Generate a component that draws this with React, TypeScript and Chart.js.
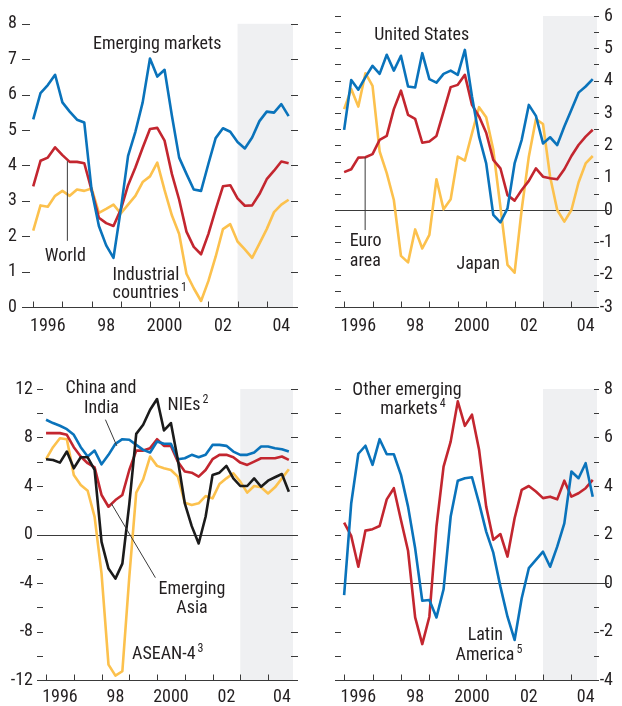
import React, { useEffect, useRef } from 'react';
import { Chart, registerables } from 'chart.js';

Chart.register(...registerables);

const FONT = '"Liberation Sans Narrow", "Roboto Condensed", "DejaVu Sans Condensed", sans-serif';
const TEXT = '#231f20';
const AXIS = '#3a3a3a';
const SHADE = '#eff0f2';
const BLUE = '#0a73bb';
const RED = '#c3262f';
const YELLOW = '#fcc14d';
const BLACK = '#1b1b1b';

// ---- categories (quarters) ----
const quarters = [
  '1996Q1', '1996Q2', '1996Q3', '1996Q4', '1997Q1', '1997Q2', '1997Q3', '1997Q4',
  '1998Q1', '1998Q2', '1998Q3', '1998Q4', '1999Q1', '1999Q2', '1999Q3', '1999Q4',
  '2000Q1', '2000Q2', '2000Q3', '2000Q4', '2001Q1', '2001Q2', '2001Q3', '2001Q4',
  '2002Q1', '2002Q2', '2002Q3', '2002Q4', '2003Q1', '2003Q2', '2003Q3', '2003Q4',
  '2004Q1', '2004Q2', '2004Q3', '2004Q4',
];

// ---- axis ticks ----
const xTickYears = [1996, 1997, 1998, 1999, 2000, 2001, 2002, 2003, 2004];
const xLabelYears = [1996.5, 1998.5, 2000.5, 2002.5, 2004.5];
const xLabelTexts = ['1996', '98', '2000', '02', '04'];
const forecastStart = 2003;
const X_MIN = 1995.89;
const X_MAX = 2004.9;

// ---- panel 1: world ----
const emergingMarkets = [5.30, 6.04, 6.27, 6.56, 5.78, 5.52, 5.29, 5.21, 3.30, 2.29, 1.74, 1.39, 2.75, 4.27, 4.95, 5.78, 7.02, 6.51, 6.70, 5.41, 4.22, 3.76, 3.32, 3.28, 4.04, 4.77, 5.05, 4.95, 4.66, 4.48, 4.79, 5.25, 5.52, 5.49, 5.73, 5.39];
const world = [3.41, 4.13, 4.22, 4.51, 4.29, 4.10, 4.10, 4.06, 3.30, 2.52, 2.37, 2.29, 2.75, 3.44, 3.94, 4.50, 5.03, 5.06, 4.70, 3.76, 3.03, 2.13, 1.70, 1.49, 2.06, 2.75, 3.41, 3.44, 3.07, 2.86, 2.87, 3.19, 3.61, 3.85, 4.11, 4.06];
const industrialCountries = [2.16, 2.87, 2.83, 3.14, 3.28, 3.14, 3.32, 3.28, 3.35, 2.66, 2.77, 2.89, 2.64, 2.89, 3.14, 3.53, 3.69, 4.08, 3.30, 2.59, 2.06, 0.94, 0.53, 0.17, 0.73, 1.42, 2.20, 2.34, 1.85, 1.63, 1.39, 1.79, 2.20, 2.68, 2.89, 3.03];

// ---- panel 2: industrial economies ----
const unitedStates = [2.48, 4.02, 3.72, 4.11, 4.46, 4.21, 4.80, 4.31, 4.77, 3.82, 3.79, 4.85, 4.05, 3.94, 4.21, 4.31, 4.18, 4.95, 3.51, 2.27, 1.44, -0.15, -0.38, 0.05, 1.44, 2.17, 3.25, 2.91, 2.06, 2.25, 2.01, 2.58, 3.10, 3.63, 3.82, 4.05];
const euroArea = [1.17, 1.26, 1.62, 1.63, 1.73, 2.17, 2.29, 3.12, 3.69, 2.94, 2.82, 2.08, 2.12, 2.29, 3.04, 3.80, 3.87, 4.18, 3.25, 2.89, 2.39, 1.55, 1.29, 0.46, 0.29, 0.62, 0.90, 1.29, 1.03, 0.98, 0.95, 1.26, 1.67, 2.01, 2.27, 2.48];
const japan = [3.12, 3.74, 3.20, 4.23, 3.84, 1.81, 1.14, 0.31, -1.42, -1.62, -0.60, -1.19, -0.77, 0.95, 0.02, 0.33, 1.65, 1.53, 2.37, 3.18, 2.87, 1.86, 0.10, -1.70, -1.94, 0.02, 1.65, 2.81, 2.66, 1.03, 0.00, -0.36, 0.00, 0.85, 1.44, 1.67];

// ---- panel 3: emerging Asia ----
const chinaIndia = [9.46, 9.19, 8.97, 8.69, 8.22, 7.20, 6.43, 6.92, 5.79, 6.57, 7.48, 7.86, 7.81, 7.39, 6.98, 6.76, 7.67, 7.48, 7.48, 6.21, 6.29, 6.57, 6.37, 6.57, 7.39, 7.39, 7.31, 6.84, 6.57, 6.57, 6.76, 7.26, 7.26, 7.12, 7.03, 6.84];
const emergingAsia = [8.36, 8.36, 8.36, 8.22, 7.20, 6.43, 5.88, 5.54, 3.26, 2.29, 2.84, 3.26, 5.32, 6.92, 6.92, 7.12, 7.86, 7.31, 7.31, 6.01, 5.19, 5.10, 4.77, 5.32, 6.21, 6.57, 6.57, 6.37, 5.93, 5.74, 6.01, 6.29, 6.29, 6.29, 6.43, 6.15];
const nies = [6.21, 6.15, 5.93, 6.84, 5.46, 6.37, 6.37, 5.32, -0.61, -2.81, -3.64, -2.40, 2.50, 8.30, 9.05, 10.29, 11.17, 8.58, 9.19, 6.15, 2.57, 0.69, -0.74, 1.46, 4.91, 5.10, 5.66, 4.63, 4.00, 4.00, 4.63, 3.94, 4.44, 4.72, 4.99, 3.53];
const asean4 = [6.21, 7.20, 7.94, 7.86, 4.91, 4.08, 3.61, 1.46, -3.23, -10.73, -11.64, -11.28, -3.50, 3.45, 4.55, 6.43, 5.66, 5.46, 5.32, 4.77, 2.62, 2.43, 2.57, 3.17, 2.98, 4.17, 4.63, 5.05, 4.36, 3.45, 4.00, 3.89, 3.39, 3.89, 4.63, 5.38];

// ---- panel 4: other regions ----
const latinAmerica = [-0.50, 3.29, 5.33, 5.66, 4.87, 5.93, 5.31, 5.31, 4.46, 3.15, 1.43, -0.73, -0.70, -1.42, -0.26, 2.74, 4.22, 4.32, 4.36, 3.29, 2.12, 1.25, -0.15, -1.39, -2.35, -0.63, 0.61, 0.95, 1.29, 0.67, 1.50, 2.46, 4.60, 4.32, 4.94, 3.56];
const otherEmerging = [2.49, 1.94, 0.67, 2.16, 2.22, 2.35, 3.45, 3.91, 2.60, 1.33, -1.42, -2.52, -1.39, 2.33, 4.80, 5.83, 7.49, 6.48, 6.94, 5.49, 3.15, 1.78, 2.02, 1.09, 2.67, 3.84, 4.00, 3.77, 3.50, 3.56, 3.45, 4.22, 3.56, 3.70, 3.91, 4.25];

const toYear = (q: string) => Number(q.slice(0, 4)) + (Number(q.slice(5)) - 1) / 4;

type Ann = { text: string; sup?: string; x: number; y: number; align: CanvasTextAlign };
type Leader = [number, number, number, number];

interface Panel {
  left: number; top: number; width: number; height: number;
  series: { label: string; data: number[]; color: string }[];
  yMin: number; yMax: number; yStep: number; yMarkStep: number;
  yPos: 'left' | 'right'; axisWidth: number; yLabelPad: number;
  padding: { top: number; left: number; right: number; bottom: number };
  xAxisHeight: number; xLabelPad: number;
  tickL: number; tickRIn: number; tickROut: number;
  zero: boolean; zeroExt: number;
  annotations: Ann[]; leaders: Leader[];
}

const panels: Panel[] = [
  {
    left: 0, top: 0, width: 311, height: 340,
    series: [
      { label: 'Emerging markets', data: emergingMarkets, color: BLUE },
      { label: 'World', data: world, color: RED },
      { label: 'Industrial countries', data: industrialCountries, color: YELLOW },
    ],
    yMin: 0, yMax: 8, yStep: 1, yMarkStep: 1, yPos: 'left', axisWidth: 30, yLabelPad: 13,
    padding: { top: 16, left: 0, right: 18, bottom: 0 }, xAxisHeight: 33, xLabelPad: 9,
    tickL: 8, tickRIn: 2, tickROut: 5, zero: false, zeroExt: 0,
    annotations: [
      { text: 'Emerging markets', x: 2000.25, y: 7.42, align: 'center' },
      { text: 'World', x: 1997.1, y: 1.44, align: 'center' },
      { text: 'Industrial', x: 1998.72, y: 0.89, align: 'left' },
      { text: 'countries', sup: '1', x: 1998.72, y: 0.37, align: 'left' },
    ],
    leaders: [[1997.17, 4.12, 1997.17, 1.87]],
  },
  {
    left: 311, top: 0, width: 311, height: 340,
    series: [
      { label: 'United States', data: unitedStates, color: BLUE },
      { label: 'Euro area', data: euroArea, color: RED },
      { label: 'Japan', data: japan, color: YELLOW },
    ],
    yMin: -3, yMax: 6, yStep: 1, yMarkStep: 0.5, yPos: 'right', axisWidth: 16, yLabelPad: 4,
    padding: { top: 16, left: 30, right: 9, bottom: 0 }, xAxisHeight: 33, xLabelPad: 9,
    tickL: 6, tickRIn: 3, tickROut: 2, zero: true, zeroExt: 12,
    annotations: [
      { text: 'United States', x: 1998.73, y: 5.41, align: 'center' },
      { text: 'Euro', x: 1996.2, y: -0.97, align: 'left' },
      { text: 'area', x: 1996.2, y: -1.59, align: 'left' },
      { text: 'Japan', x: 2000.72, y: -1.7, align: 'center' },
    ],
    leaders: [[1996.74, 1.63, 1996.74, -0.62]],
  },
  {
    left: 0, top: 340, width: 311, height: 366,
    series: [
      { label: 'NIEs', data: nies, color: BLACK },
      { label: 'China and India', data: chinaIndia, color: BLUE },
      { label: 'Emerging Asia', data: emergingAsia, color: RED },
      { label: 'ASEAN-4', data: asean4, color: YELLOW },
    ],
    yMin: -12, yMax: 12, yStep: 4, yMarkStep: 2, yPos: 'left', axisWidth: 43, yLabelPad: 10,
    padding: { top: 49, left: 0, right: 18, bottom: 0 }, xAxisHeight: 26, xLabelPad: 7,
    tickL: 6, tickRIn: 2, tickROut: 5, zero: true, zeroExt: 5,
    annotations: [
      { text: 'China and', x: 1997.98, y: 12.03, align: 'center' },
      { text: 'India', x: 1998.0, y: 10.41, align: 'center' },
      { text: 'NIEs', sup: '2', x: 2000.38, y: 10.62, align: 'left' },
      { text: 'Emerging', x: 2001.26, y: -4.53, align: 'center' },
      { text: 'Asia', x: 2001.26, y: -6.14, align: 'center' },
      { text: 'ASEAN-4', sup: '3', x: 1999.1, y: -9.91, align: 'left' },
    ],
    leaders: [[1998.14, 9.47, 1998.55, 7.31], [1998.35, 2.57, 1999.94, -3.56]],
  },
  {
    left: 311, top: 340, width: 311, height: 366,
    series: [
      { label: 'Latin America', data: latinAmerica, color: BLUE },
      { label: 'Other emerging markets', data: otherEmerging, color: RED },
    ],
    yMin: -4, yMax: 8, yStep: 2, yMarkStep: 1, yPos: 'right', axisWidth: 16, yLabelPad: 4,
    padding: { top: 49, left: 30, right: 9, bottom: 0 }, xAxisHeight: 26, xLabelPad: 7,
    tickL: 6, tickRIn: 3, tickROut: 2, zero: true, zeroExt: 12,
    annotations: [
      { text: 'Other emerging', x: 1996.29, y: 7.95, align: 'left' },
      { text: 'markets', sup: '4', x: 1997.27, y: 7.15, align: 'left' },
      { text: 'Latin', x: 2000.97, y: -2.16, align: 'center' },
      { text: 'America', sup: '5', x: 1999.92, y: -2.99, align: 'left' },
    ],
    leaders: [],
  },
];

const decor = {
  id: 'decor',
  beforeDatasetsDraw(chart: any, _args: any, o: any) {
    const { ctx, chartArea: ca } = chart;
    const xs = chart.scales.x;
    const ys = chart.scales.y;
    const p: Panel = o.panel;
    ctx.save();
    const sx = xs.getPixelForValue(forecastStart);
    ctx.fillStyle = SHADE;
    ctx.fillRect(sx, ca.top, ca.right - sx, ca.bottom - ca.top);

    ctx.strokeStyle = AXIS;
    ctx.lineWidth = 1;
    ctx.beginPath();
    for (let v = p.yMin; v <= p.yMax + 1e-9; v += p.yMarkStep) {
      const py = Math.round(ys.getPixelForValue(v)) + 0.5;
      ctx.moveTo(ca.left - p.tickL, py);
      ctx.lineTo(ca.left, py);
      ctx.moveTo(ca.right - p.tickRIn, py);
      ctx.lineTo(ca.right + p.tickROut, py);
    }
    ctx.stroke();

    if (p.zero) {
      const pz = Math.round(ys.getPixelForValue(0)) + 0.5;
      ctx.beginPath();
      ctx.moveTo(ca.left - p.tickL, pz);
      ctx.lineTo(ca.right + p.zeroExt, pz);
      ctx.stroke();
    }

    const pb = Math.round(ca.bottom) + 0.5;
    ctx.beginPath();
    ctx.moveTo(ca.left - p.tickL, pb);
    ctx.lineTo(ca.right + p.tickROut, pb);
    xTickYears.forEach((yr) => {
      const px = Math.round(xs.getPixelForValue(yr)) + 0.5;
      ctx.moveTo(px, pb);
      ctx.lineTo(px, pb - 6);
    });
    ctx.stroke();
    ctx.restore();
  },
  afterDatasetsDraw(chart: any, _args: any, o: any) {
    const { ctx } = chart;
    const xs = chart.scales.x;
    const ys = chart.scales.y;
    const p: Panel = o.panel;
    ctx.save();
    ctx.strokeStyle = AXIS;
    ctx.lineWidth = 1;
    p.leaders.forEach(([x1, y1, x2, y2]) => {
      ctx.beginPath();
      ctx.moveTo(xs.getPixelForValue(x1), ys.getPixelForValue(y1));
      ctx.lineTo(xs.getPixelForValue(x2), ys.getPixelForValue(y2));
      ctx.stroke();
    });
    ctx.fillStyle = TEXT;
    ctx.textBaseline = 'middle';
    p.annotations.forEach((a) => {
      ctx.font = `18px ${FONT}`;
      ctx.textAlign = a.align;
      const px = xs.getPixelForValue(a.x);
      const py = ys.getPixelForValue(a.y);
      ctx.fillText(a.text, px, py);
      if (a.sup) {
        const w = ctx.measureText(a.text).width;
        const start = a.align === 'left' ? px : a.align === 'center' ? px - w / 2 : px - w;
        ctx.font = `12px ${FONT}`;
        ctx.textAlign = 'left';
        ctx.fillText(a.sup, start + w + 2, py - 6);
      }
    });
    ctx.restore();
  },
};

function PanelChart({ p }: { p: Panel }) {
  const ref = useRef<HTMLCanvasElement>(null);
  useEffect(() => {
    if (!ref.current) return;
    const chart = new Chart(ref.current, {
      type: 'line',
      data: {
        datasets: p.series.map((s) => ({
          label: s.label,
          data: quarters.map((q, i) => ({ x: toYear(q), y: s.data[i] })),
          borderColor: s.color,
          backgroundColor: s.color,
          borderWidth: 2.6,
          pointRadius: 0,
          tension: 0,
          fill: false,
          borderJoinStyle: 'round',
        })),
      },
      options: {
        animation: false,
        responsive: false,
        layout: { padding: p.padding },
        plugins: {
          legend: { display: false },
          tooltip: { enabled: false },
          decor: { panel: p },
        } as any,
        scales: {
          x: {
            type: 'linear',
            min: X_MIN,
            max: X_MAX,
            grid: { display: false, drawTicks: false },
            border: { display: false },
            afterBuildTicks: (s: any) => {
              s.ticks = xLabelYears.map((v) => ({ value: v }));
            },
            afterFit: (s: any) => {
              s.height = p.xAxisHeight;
            },
            ticks: {
              autoSkip: false,
              maxRotation: 0,
              padding: p.xLabelPad,
              color: TEXT,
              font: { family: FONT, size: 18 },
              callback: (v: any) => {
                const i = xLabelYears.indexOf(Number(v));
                return i >= 0 ? xLabelTexts[i] : '';
              },
            },
          },
          y: {
            type: 'linear',
            position: p.yPos,
            min: p.yMin,
            max: p.yMax,
            grid: { display: false, drawTicks: false },
            border: { display: false },
            afterFit: (s: any) => {
              s.width = p.axisWidth;
            },
            ticks: {
              stepSize: p.yStep,
              padding: p.yLabelPad,
              crossAlign: p.yPos === 'right' ? 'far' : 'near',
              color: TEXT,
              font: { family: FONT, size: 18 },
              callback: (v: any) => String(v),
            },
          },
        },
      },
      plugins: [decor as any],
    } as any);
    return () => chart.destroy();
  }, [p]);
  return (
    <canvas
      ref={ref}
      width={p.width}
      height={p.height}
      style={{ position: 'absolute', left: p.left, top: p.top, width: p.width, height: p.height }}
    />
  );
}

export default function App() {
  return (
    <div style={{ position: 'absolute', left: 0, top: 0, width: 622, height: 706, background: '#ffffff', overflow: 'hidden' }}>
      {panels.map((p, i) => (
        <PanelChart key={i} p={p} />
      ))}
    </div>
  );
}
